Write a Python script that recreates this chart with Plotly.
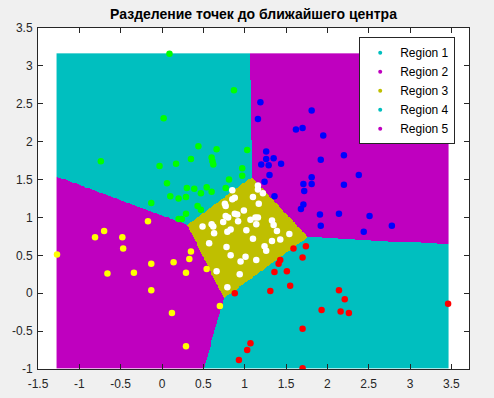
import numpy as np
import plotly.graph_objects as go

# ---- data ----
green_x = [0.09, 0.87, 0.02, -0.74, 0.44, 0.66, 1.03, 0.35, 0.60, 0.61, 0.62, -0.03, 0.17, 0.97, 0.97, 0.81,
           0.77, 0.06, 0.30, 0.39, 0.54, 0.60, 0.47, 0.10, 0.20, 0.29, -0.13, 0.43, 0.47, 0.29, 0.20, 0.24]
green_y = [3.16, 2.68, 2.31, 1.74, 1.94, 1.90, 1.89, 1.77, 1.79, 1.74, 1.70, 1.68, 1.71, 1.65, 1.55, 1.50,
           1.39, 1.45, 1.39, 1.38, 1.40, 1.34, 1.32, 1.28, 1.25, 1.27, 1.19, 1.15, 1.10, 1.05, 0.98, 0.98]

blue_x = [1.19, 1.16, 1.81, 1.62, 1.70, 1.95, 1.26, 1.26, 1.35, 1.20, 1.29, 1.44, 1.30, 1.24, 1.92, 2.20,
          2.38, 1.81, 1.81, 1.71, 2.20, 1.72, 1.36, 1.71, 1.68, 1.91, 2.14, 2.51, 1.92, 2.44, 2.78]
blue_y = [2.52, 2.30, 2.41, 2.16, 2.18, 2.08, 1.87, 1.77, 1.78, 1.70, 1.69, 1.71, 1.56, 1.47, 1.76, 1.82,
          1.56, 1.53, 1.44, 1.44, 1.43, 1.35, 1.28, 1.17, 1.11, 1.04, 1.05, 1.02, 0.89, 0.81, 0.89]

white_x = [0.85, 1.16, 1.16, 1.22, 0.88, 0.85, 1.10, 1.17, 0.76, 0.77, 0.99, 0.88, 0.91, 0.77, 0.80, 0.74,
           0.92, 1.07, 1.13, 1.16, 1.14, 1.33, 1.35, 0.49, 0.60, 0.62, 0.63, 0.83, 0.79, 1.02, 1.39, 1.54,
           1.10, 1.43, 1.33, 0.57, 1.24, 1.26, 0.78, 0.83, 1.01, 0.95, 1.14, 0.66, 0.94, 0.79]
white_y = [1.36, 1.42, 1.37, 1.32, 1.26, 1.24, 1.27, 1.18, 1.18, 1.15, 1.09, 1.05, 1.04, 1.02, 1.00, 0.94,
           0.95, 0.97, 1.00, 1.00, 0.91, 0.96, 0.90, 0.88, 0.91, 0.88, 0.79, 0.84, 0.81, 0.83, 0.82, 0.78,
           0.72, 0.71, 0.69, 0.66, 0.62, 0.56, 0.61, 0.50, 0.48, 0.42, 0.44, 0.29, 0.25, 0.08]

red_x = [1.59, 1.74, 1.70, 1.43, 1.41, 1.36, 1.51, 1.55, 1.31, 0.88, 2.14, 2.21, 1.93, 2.16, 2.26, 3.46,
         1.70, 1.07, 1.03, 0.93, 1.70]
red_y = [0.59, 0.62, 0.47, 0.44, 0.39, 0.28, 0.29, 0.10, 0.03, 0.00, 0.04, -0.08, -0.22, -0.24, -0.26, -0.14,
         -0.47, -0.66, -0.75, -0.88, -0.99]

yellow_x = [-1.27, -0.81, -0.70, -0.48, -0.47, -0.17, -0.66, -0.34, -0.13, -0.13, 0.14, 0.35, 0.33, 0.29,
            0.54, 0.12, 0.70, 0.29]
yellow_y = [0.51, 0.74, 0.82, 0.74, 0.59, 0.95, 0.26, 0.27, 0.39, 0.04, 0.41, 0.55, 0.45, 0.27,
            0.32, -0.26, -0.17, -0.70]

centers_x = [0.39, 1.78, 0.95, 1.69, -0.08]
centers_y = [1.54, 1.56, 0.85, -0.08, 0.38]

region_names = ["Region 1", "Region 2", "Region 3", "Region 4", "Region 5"]
region_colors = ["#00BFBF", "#BF00BF", "#BFBF00", "#00BFBF", "#BF00BF"]

x_ticks = [-1.5, -1, -0.5, 0, 0.5, 1, 1.5, 2, 2.5, 3, 3.5]
x_ticklabels = ["-1.5", "-1", "-0.5", "0", "0.5", "1", "1.5", "2", "2.5", "3", "3.5"]
y_ticks = [-1, -0.5, 0, 0.5, 1, 1.5, 2, 2.5, 3, 3.5]
y_ticklabels = ["-1", "-0.5", "0", "0.5", "1", "1.5", "2", "2.5", "3", "3.5"]

title = "Разделение точек до ближайшего центра"

# ---- nearest-centre regions on a grid spanning the data ----
all_x = np.array(green_x + blue_x + white_x + red_x + yellow_x)
all_y = np.array(green_y + blue_y + white_y + red_y + yellow_y)
gx = np.linspace(all_x.min(), all_x.max(), 420)
gy = np.linspace(all_y.min(), all_y.max(), 380)
GX, GY = np.meshgrid(gx, gy)
cx = np.array(centers_x)
cy = np.array(centers_y)
dist = (GX[..., None] - cx) ** 2 + (GY[..., None] - cy) ** 2
region = dist.argmin(axis=2)

n = len(region_colors)
cs = []
for i, c in enumerate(region_colors):
    cs.append([i / n, c])
    cs.append([(i + 1) / n, c])

fig = go.Figure()
fig.add_trace(go.Heatmap(x=gx, y=gy, z=region, zmin=-0.5, zmax=n - 0.5, colorscale=cs,
                         showscale=False, hoverinfo="skip", zsmooth=False))

for name, col in zip(region_names, region_colors):
    fig.add_trace(go.Scatter(x=[None], y=[None], mode="markers", name=name,
                             marker=dict(color=col, size=4)))

for xs, ys, col in [(green_x, green_y, "#00FF00"), (blue_x, blue_y, "#0000FF"),
                    (white_x, white_y, "#FFFFFF"), (red_x, red_y, "#FF0000"),
                    (yellow_x, yellow_y, "#FFFF00")]:
    fig.add_trace(go.Scatter(x=xs, y=ys, mode="markers", showlegend=False,
                             marker=dict(color=col, size=6.5, line=dict(width=0))))

axis_common = dict(showgrid=False, zeroline=False, ticks="inside", ticklen=5, tickwidth=1,
                   tickcolor="#262626", showline=True, mirror="ticks", linecolor="#262626",
                   linewidth=1, automargin=False,
                   tickfont=dict(family="Liberation Sans, Arial", size=12, color="#262626"))

fig.update_layout(
    width=494, height=398,
    paper_bgcolor="#F0F0F0", plot_bgcolor="#FFFFFF",
    margin=dict(l=38, r=25, t=28, b=29, autoexpand=False),
    title=dict(text="<b>" + title + "</b>", x=0.5, xref="paper", xanchor="center",
               y=1 - 14 / 398, yref="container", yanchor="middle", automargin=False,
               font=dict(family="Liberation Sans, Arial", size=14, color="#000000")),
    xaxis=dict(range=[-1.5, 3.713], tickvals=x_ticks, ticktext=x_ticklabels,
               ticklabelstandoff=4, **axis_common),
    yaxis=dict(range=[-1, 3.5], tickvals=y_ticks, ticktext=y_ticklabels,
               ticklabelstandoff=2, **axis_common),
    legend=dict(x=0.968, xanchor="right", y=0.9727, yanchor="top", bgcolor="#FFFFFF",
                bordercolor="#262626", borderwidth=1,
                font=dict(family="Liberation Sans, Arial", size=12, color="#000000")),
    showlegend=True,
)

fig.write_html("out.html", config={"displayModeBar": False},
               post_script="document.body.style.margin='0px';document.body.style.background='#F0F0F0';")
